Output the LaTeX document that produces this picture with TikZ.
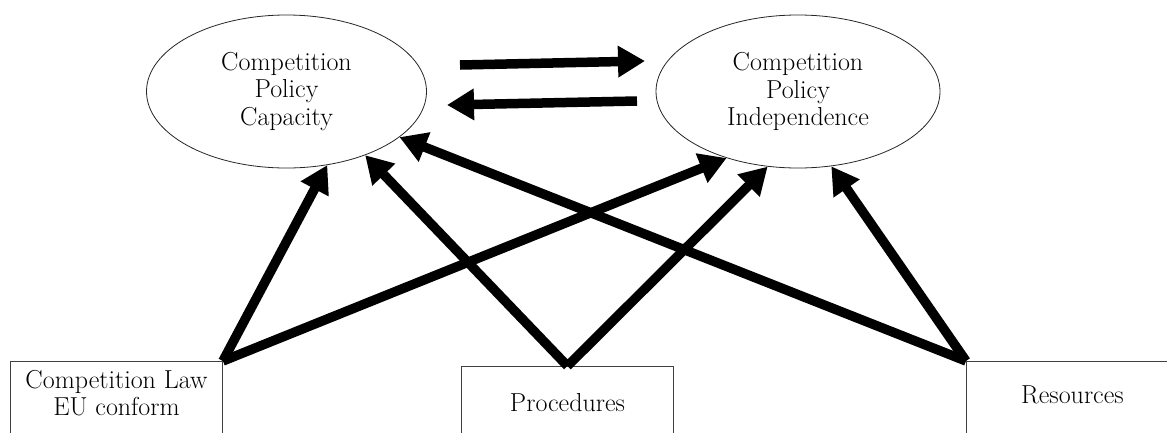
\documentclass[tikz,border=0pt]{standalone}
\usetikzlibrary{arrows.meta,shapes.geometric}
\begin{document}
\begin{tikzpicture}[x=1pt,y=-1pt,
  txt/.style={font=\fontsize{26}{27.5}\selectfont, align=center},
  oval/.style={ellipse, draw=black!85, line width=0.8pt, minimum width=280pt, minimum height=153pt, inner sep=0pt, txt},
  boxnode/.style={rectangle, draw=black!75, line width=0.9pt, minimum width=212pt, inner xsep=0pt, text depth=60pt, txt, anchor=north west},
  bigarrow/.style={line width=9.5pt, -{Triangle[length=27pt,width=30pt]}}]
\useasboundingbox (0,0) rectangle (1167,432);
\clip (0,0) rectangle (1167,432);
\fill[white] (0,0) rectangle (1167,432);
\node[oval] (cap) at (286.5,91.5) {Competition\\Policy\\Capacity};
\node[oval, minimum width=284pt] (ind) at (798,91.5) {Competition\\Policy\\Independence};
\node[boxnode, inner ysep=8.5pt] (law) at (10,361) {Competition Law\\EU conform};
\node[boxnode, inner ysep=26.5pt] (proc) at (461,366) {Procedures};
\node[boxnode, inner ysep=24pt] (res) at (966,361) {Resources};
\coordinate (r1) at (460,65);
\coordinate (r2) at (645,61);
\coordinate (l1) at (637,101);
\coordinate (l2) at (447,105);
\draw[bigarrow] (r1) -- (r2);
\draw[bigarrow] (l1) -- (l2);
\draw[bigarrow] (law.north east) -- (cap.-61);
\draw[bigarrow] (law.north east) -- (ind.-137);
\draw[bigarrow] (proc.north) -- (cap.-39);
\draw[bigarrow] (proc.north) -- (ind.-112);
\draw[bigarrow] (res.north west) -- (cap.-22);
\draw[bigarrow] (res.north west) -- (ind.-66);
\end{tikzpicture}
\end{document}
